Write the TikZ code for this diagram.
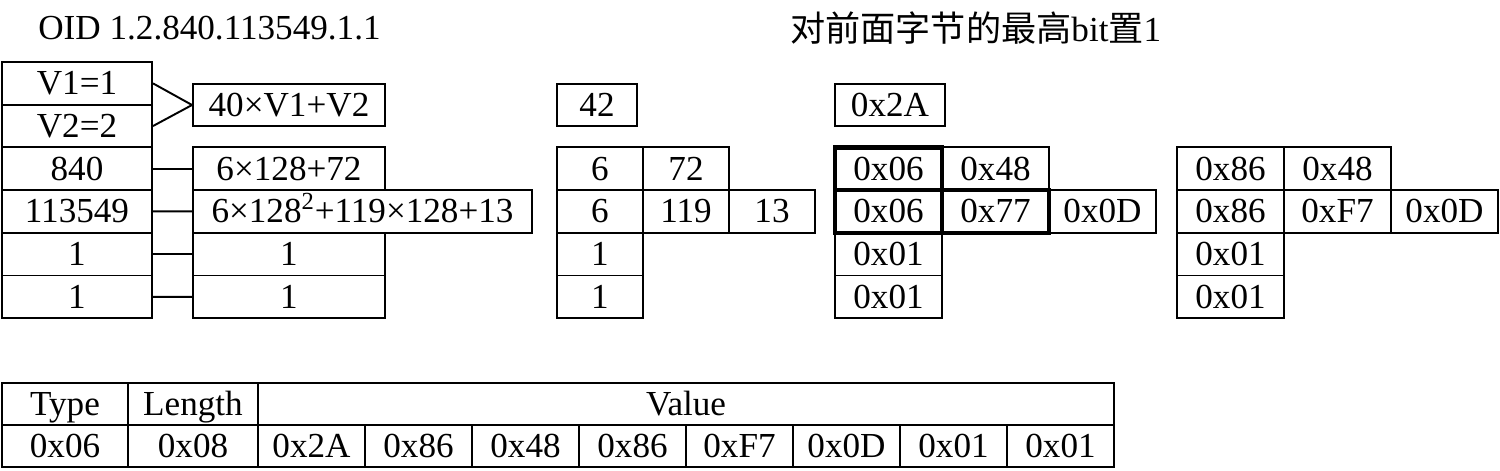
\documentclass[tikz,border=0pt]{standalone}
\usepackage{fontspec}
\setmainfont{Liberation Serif}
\newfontfamily\cjk{Noto Sans CJK SC}
\begin{document}
\begin{tikzpicture}
    [x=0.02cm, y=-0.02cm,
     cell/.style={draw, rectangle, inner sep=0pt,
       minimum height=0.854cm, line width=1.1pt,
       text height=13.5pt, text depth=0.5pt,
       font=\fontsize{20}{22}\selectfont},
     cw/.style={minimum width=#1*0.02cm},
     hot/.style={cell, line width=2.6pt},
     link/.style={line width=1.1pt}]
    \def \rowh {42.7}
    \def \rowtop {62} % top edge of the first row

    \useasboundingbox (0,0) rectangle (1500,470);

    \node[anchor=west, inner sep=0pt, font=\fontsize{20}{22}\selectfont]
      (title) at (38,28) {OID 1.2.840.113549.1.1};
    \node[anchor=west, inner sep=0pt, font=\fontsize{20}{22}\selectfont]
      (note) at (790,28) {{\cjk 对前面字节的最高}bit{\cjk 置}1};

    % the OID arcs
    \foreach \t [count=\i from 0] in {V1=1, V2=2, 840, 113549, 1, 1}
    {
      \node[cell, cw=150] (oid\i) at (77, {\rowtop+(\i+0.5)*\rowh}) {\t};
    }

    % base-128 split
    \node[cell, cw=192, minimum height=0.84cm] (calc0) at (289,105) {40×V1+V2};
    \node[cell, cw=192] (calc2) at (289,168.75) {6×128+72};
    \node[cell, cw=339] (calc3) at (362.5,211.45) {6×128\textsuperscript{2}+119×128+13};
    \node[cell, cw=192] (calc4) at (289,254.15) {1};
    \node[cell, cw=192] (calc5) at (289,296.85) {1};

    \draw[link] (oid0.east) -- (calc0.west);
    \draw[link] (oid1.east) -- (calc0.west);
    \foreach \i in {2,...,5}
      \draw[link] (oid\i.east) -- (calc\i.west);

    % decimal bytes
    \node[cell, cw=80, minimum height=0.84cm] (dec0) at (597,105) {42};
    \foreach \x/\y/\t/\n in {600/168.75/6/dec21, 686/168.75/72/dec22,
        600/211.45/6/dec31, 686/211.45/119/dec32, 772/211.45/13/dec33,
        600/254.15/1/dec41, 600/296.85/1/dec51}
      \node[cell, cw=86] (\n) at (\x,\y) {\t};

    % hex bytes
    \node[cell, cw=110, minimum height=0.84cm] (hex0) at (890,105) {0x2A};
    \foreach \x/\y/\t/\n in {995.5/168.75/0x48/hex22,
        1102.5/211.45/0x0D/hex33,
        888.5/254.15/0x01/hex41, 888.5/296.85/0x01/hex51}
      \node[cell, cw=107] (\n) at (\x,\y) {\t};
    \foreach \x/\y/\t/\n in {888.5/168.75/0x06/hex21,
        888.5/211.45/0x06/hex31, 995.5/211.45/0x77/hex32}
      \node[hot, cw=107] (\n) at (\x,\y) {\t};

    % high bit set
    \foreach \x/\y/\t/\n in {1230.5/168.75/0x86/set21, 1337.5/168.75/0x48/set22,
        1230.5/211.45/0x86/set31, 1337.5/211.45/0xF7/set32, 1444.5/211.45/0x0D/set33,
        1230.5/254.15/0x01/set41, 1230.5/296.85/0x01/set51}
      \node[cell, cw=107] (\n) at (\x,\y) {\t};

    % TLV encoding
    \node[cell, cw=126, minimum height=0.84cm] (type) at (65,404) {Type};
    \node[cell, cw=130, minimum height=0.84cm] (len) at (193,404) {Length};
    \node[cell, cw=856, minimum height=0.84cm] (val) at (686,404) {Value};
    \node[cell, cw=126, minimum height=0.84cm] (typev) at (65,446) {0x06};
    \node[cell, cw=130, minimum height=0.84cm] (lenv) at (193,446) {0x08};
    \foreach \t [count=\i] in {0x2A,0x86,0x48,0x86,0xF7,0x0D,0x01,0x01}
      \node[cell, cw=107, minimum height=0.84cm] (byte\i) at ({311.5+107*(\i-1)},446) {\t};
\end{tikzpicture}
\end{document}
